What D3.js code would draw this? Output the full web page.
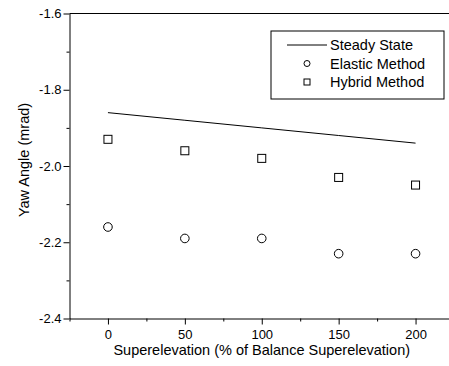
<!DOCTYPE html>
<html>
<head>
<meta charset="utf-8">
<script src="https://cdn.jsdelivr.net/npm/d3@7"></script>
<style>
    body { margin: 0; background: #fff; }
    svg { display: block; font-family: Arial, "Liberation Sans", sans-serif; }
</style>
</head>
<body>
<div id="chart"></div>
<script>
const superelevation = [0, 50, 100, 150, 200];
const steadyState = [-1.86, -1.88, -1.90, -1.92, -1.94];
const elasticMethod = [-2.16, -2.19, -2.19, -2.23, -2.23];
const hybridMethod = [-1.93, -1.96, -1.98, -2.03, -2.05];
const xTicks = [0, 50, 100, 150, 200];
const yTicks = [-1.6, -1.8, -2.0, -2.2, -2.4];
const legendLabels = ['Steady State', 'Elastic Method', 'Hybrid Method'];

const width = 449;
const height = 366;

const svg = d3.select('#chart')
    .append('svg')
    .attr('width', width)
    .attr('height', height)
    .attr('viewBox', [0, 0, width, height]);

// scales (the right end runs off the picture, as in the original)
const x = d3.scaleLinear().domain([-25, 225]).range([69.5, 454]);
const y = d3.scaleLinear().domain([-2.4, -1.6]).range([318.5, 13.5]);

// plain hyphen for negatives, like the original
const fmt = d => d.toFixed(1);

// x-axis
const xAxis = svg.append('g')
    .attr('transform', `translate(0,${y(-2.4)})`)
    .call(d3.axisBottom(x).tickValues(xTicks).tickSize(6).tickSizeOuter(0).tickPadding(5));
xAxis.append('g')
    .call(d3.axisBottom(x).tickValues([-25, 25, 75, 125, 175, 225]).tickSize(3).tickSizeOuter(0).tickFormat(''))
    .select('.domain').remove();

// y-axis
const yAxis = svg.append('g')
    .attr('transform', `translate(${x(-25)},0)`)
    .call(d3.axisLeft(y).tickValues(yTicks).tickSize(6).tickSizeOuter(0).tickPadding(2).tickFormat(fmt));
yAxis.append('g')
    .call(d3.axisLeft(y).tickValues([-1.7, -1.9, -2.1, -2.3]).tickSize(3).tickSizeOuter(0).tickFormat(''))
    .select('.domain').remove();

svg.selectAll('.tick text')
    .style('font-size', '13px')
    .attr('fill', '#000');
svg.selectAll('.domain, .tick line').attr('stroke', '#000');

// top frame line
svg.append('line')
    .attr('x1', x(-25)).attr('x2', x(225))
    .attr('y1', y(-1.6)).attr('y2', y(-1.6))
    .attr('stroke', '#000');

// steady state line
const line = d3.line()
    .x((d, i) => x(superelevation[i]))
    .y(d => y(d));
svg.append('path')
    .datum(steadyState)
    .attr('fill', 'none')
    .attr('stroke', '#000')
    .attr('stroke-width', 1)
    .attr('d', line);

// elastic method circles
svg.append('g')
    .selectAll('circle')
    .data(elasticMethod)
    .join('circle')
    .attr('cx', (d, i) => x(superelevation[i]))
    .attr('cy', d => y(d))
    .attr('r', 4.3)
    .attr('fill', 'none')
    .attr('stroke', '#000');

// hybrid method squares
svg.append('g')
    .selectAll('rect')
    .data(hybridMethod)
    .join('rect')
    .attr('x', (d, i) => x(superelevation[i]) - 4)
    .attr('y', d => y(d) - 4)
    .attr('width', 8)
    .attr('height', 8)
    .attr('fill', 'none')
    .attr('stroke', '#000');

// axis labels
svg.append('text')
    .attr('x', x(100))
    .attr('y', 355)
    .attr('text-anchor', 'middle')
    .style('font-size', '14.5px')
    .text('Superelevation (% of Balance Superelevation)');

svg.append('text')
    .attr('transform', 'rotate(-90)')
    .attr('x', -160)
    .attr('y', 29)
    .attr('text-anchor', 'middle')
    .style('font-size', '14.5px')
    .text('Yaw Angle (mrad)');

// legend
const legend = svg.append('g');
legend.append('rect')
    .attr('x', 271).attr('y', 31)
    .attr('width', 173).attr('height', 68)
    .attr('fill', '#fff')
    .attr('stroke', '#000');

const rowY = [45, 63.5, 82];
legend.append('line')
    .attr('x1', 287).attr('x2', 327)
    .attr('y1', rowY[0]).attr('y2', rowY[0])
    .attr('stroke', '#000');
legend.append('circle')
    .attr('cx', 307).attr('cy', rowY[1]).attr('r', 3)
    .attr('fill', 'none').attr('stroke', '#000');
legend.append('rect')
    .attr('x', 304).attr('y', rowY[2] - 3)
    .attr('width', 6).attr('height', 6)
    .attr('fill', 'none').attr('stroke', '#000');

legend.selectAll('text')
    .data(legendLabels)
    .join('text')
    .attr('x', 330)
    .attr('y', (d, i) => rowY[i])
    .attr('dy', '0.35em')
    .style('font-size', '14.5px')
    .text(d => d);
</script>
</body>
</html>
